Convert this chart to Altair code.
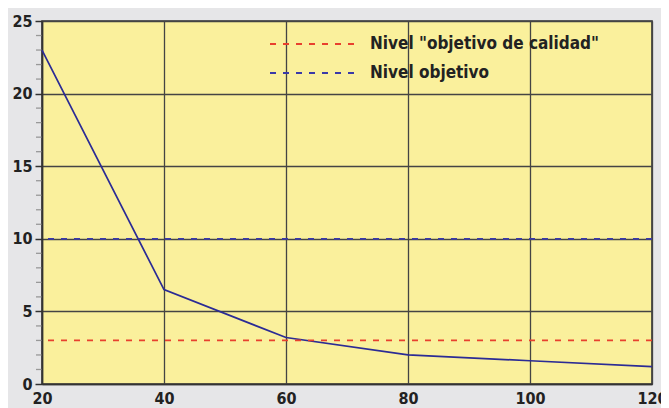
import altair as alt
import pandas as pd

x_vals = [20, 40, 60, 80, 100, 120]
y_vals = [23.0, 6.5, 3.2, 2.0, 1.6, 1.2]

level_names = ['Nivel "objetivo de calidad"', 'Nivel objetivo']
level_values = [3, 10]
level_colors = ['#e8402e', '#3a3aa8']

y_major = [0, 5, 10, 15, 20, 25]
y_minor = [v for v in range(0, 26) if v % 5 != 0]
x_ticks = [20, 40, 60, 80, 100, 120]

line_df = pd.DataFrame({'x': x_vals, 'y': y_vals})

FONT = 'Liberation Sans Narrow, DejaVu Sans Condensed, sans-serif'
DASH = [6, 7]

xs = alt.Scale(domain=[20, 120], nice=False, zero=False)
ys = alt.Scale(domain=[0, 25], nice=False)

base_line = alt.Chart(line_df).mark_line(color='#2b2b95', strokeWidth=1.7).encode(
    x=alt.X('x:Q', scale=xs, axis=alt.Axis(values=x_ticks, grid=True, tickSize=0, title=None,
                                           labelPadding=6, labelFontSize=16, labelFontWeight='bold',
                                           labelFont=FONT, labelColor='#222', gridColor='#444',
                                           gridWidth=1.3, domainColor='#333', domainWidth=1.6,
                                           labelFlush=False, labelOverlap=False)),
    y=alt.Y('y:Q', scale=ys, axis=alt.Axis(values=y_major, grid=True, tickSize=7, title=None,
                                           labelOverlap=False,
                                           labelPadding=3, labelFontSize=16, labelFontWeight='bold',
                                           labelFont=FONT, labelColor='#222', gridColor='#444',
                                           gridWidth=1.3, tickColor='#333', tickWidth=1.5,
                                           domainColor='#333', domainWidth=1.6)),
)

minor = alt.Chart(pd.DataFrame({'m': y_minor})).mark_tick(
    orient='horizontal', size=6, thickness=1.3, color='#777').encode(
    y=alt.Y('m:Q', scale=ys), x=alt.value(-3))

layers = [minor, base_line]
leg_y = [23, 52]
for name, val, col, ly in zip(level_names, level_values, level_colors, leg_y):
    d = pd.DataFrame({'serie': [name], 'v': [val]})
    layers.append(alt.Chart(d).mark_rule(strokeDash=DASH, strokeWidth=1.8, color=col).encode(
        y=alt.Y('v:Q', scale=ys)))
    layers.append(alt.Chart(d).mark_rule(strokeDash=DASH, strokeWidth=1.8, color=col).encode(
        x=alt.value(228), x2=alt.value(316), y=alt.value(ly)))
    layers.append(alt.Chart(d).mark_text(align='left', baseline='middle', font=FONT, fontSize=17,
                                         fontWeight='bold', color='#222').encode(
        x=alt.value(328), y=alt.value(ly), text='serie:N'))

chart = alt.layer(*layers).properties(
    width=610, height=363,
    background='#e6e6e8',
    padding={'left': 34, 'top': 13, 'right': 9, 'bottom': 24},
    autosize=alt.AutoSizeParams(type='none'),
).configure_view(fill='#faf09c', stroke='#333', strokeWidth=1.6)

chart.save("out.html", embed_options={"renderer": "svg", "actions": False})
